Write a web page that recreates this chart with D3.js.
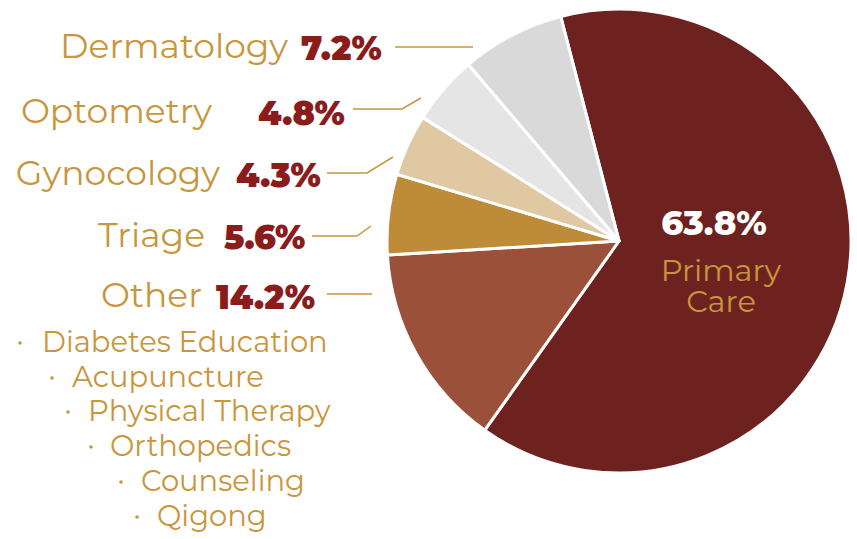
<!DOCTYPE html>
<html><head><meta charset="utf-8">
<script src="https://cdn.jsdelivr.net/npm/d3@7"></script>
<style>html,body{margin:0;padding:0;background:#fff;}svg{display:block;}</style>
</head><body>
<svg id="c" width="857" height="539"></svg>
<script>
const categories = ["Primary Care","Other","Triage","Gynocology","Optometry","Dermatology"];
const values = [63.8, 14.2, 5.6, 4.3, 4.8, 7.2];
const percentLabels = ["63.8%","14.2%","5.6%","4.3%","4.8%","7.2%"];
const otherItems = ["Diabetes Education","Acupuncture","Physical Therapy","Orthopedics","Counseling","Qigong"];

const colors = ["#6E2220","#9B503A","#BE8C38","#E0C8A2","#E5E5E5","#D9D9D9"];
const gold = "#C8963C", red = "#8B1C1C";
const font = "Montserrat, 'Noto Sans', sans-serif";

const svg = d3.select("#c");
const cx = 619, cy = 241, R = 232;
const start = -0.254;
const pie = d3.pie().sort(null).startAngle(start).endAngle(start + 2*Math.PI);
const arcs = pie(values);
const arc = d3.arc().innerRadius(0).outerRadius(R);
const g = svg.append("g").attr("transform", `translate(${cx},${cy})`);
g.selectAll("path").data(arcs).join("path")
  .attr("d", arc).attr("fill", (d,i)=>colors[i])
  .attr("stroke", "#fff").attr("stroke-width", 3).attr("stroke-linejoin","round");

// center label
g.append("text").attr("x", 95).attr("y", -6).attr("text-anchor","middle")
  .attr("font-family", font).attr("font-weight", 800).attr("font-size", 34)
  .attr("fill", "#fff").text(percentLabels[0]);
const pc = categories[0].split(" ");
pc.forEach((w,i)=>{
  g.append("text").attr("x", 102).attr("y", 40 + i*31).attr("text-anchor","middle")
    .attr("font-family", font).attr("font-size", 30.5).attr("fill", gold).text(w);
});

// side labels layout (name right edge, pct left x, baseline, leader points)
const layout = {
  "Dermatology": {nx:288, px:301, y:58, line:[[395,47],[473,47]]},
  "Optometry":   {nx:212, px:258, y:123, line:[[353,109],[402,109],[421,98]]},
  "Gynocology":  {nx:220, px:236, y:185, line:[[327,173],[367,173],[393,157]]},
  "Triage":      {nx:205, px:224, y:247, line:[[312,236],[357,236],[371,226]]},
  "Other":       {nx:202, px:216, y:307, line:[[327,294],[372,294]]}
};
categories.forEach((c,i)=>{
  const L = layout[c]; if(!L) return;
  svg.append("text").attr("x", L.nx).attr("y", L.y).attr("text-anchor","end")
    .attr("font-family", font).attr("font-size", 34.5).attr("fill", gold).text(c);
  svg.append("text").attr("x", L.px).attr("y", L.y + 1.5).attr("text-anchor","start")
    .attr("font-family", font).attr("font-weight", 900).attr("font-size", 33)
    .attr("fill", red).text(percentLabels[i]);
  svg.append("path").attr("d", d3.line()(L.line)).attr("fill","none")
    .attr("stroke", gold).attr("stroke-width", 1.5);
});

// sub list
const subPos = [[20,42,352],[52,72,387],[68,88,421],[91,110,456],[121,141,491],[137,157,526]];
otherItems.forEach((t,i)=>{
  const [bx,tx,y] = subPos[i];
  svg.append("circle").attr("cx", bx).attr("cy", y-9).attr("r", 1.8).attr("fill", gold);
  svg.append("text").attr("x", tx).attr("y", y)
    .attr("font-family", font).attr("font-size", 29).attr("fill", gold).text(t);
});
</script>
</body></html>
